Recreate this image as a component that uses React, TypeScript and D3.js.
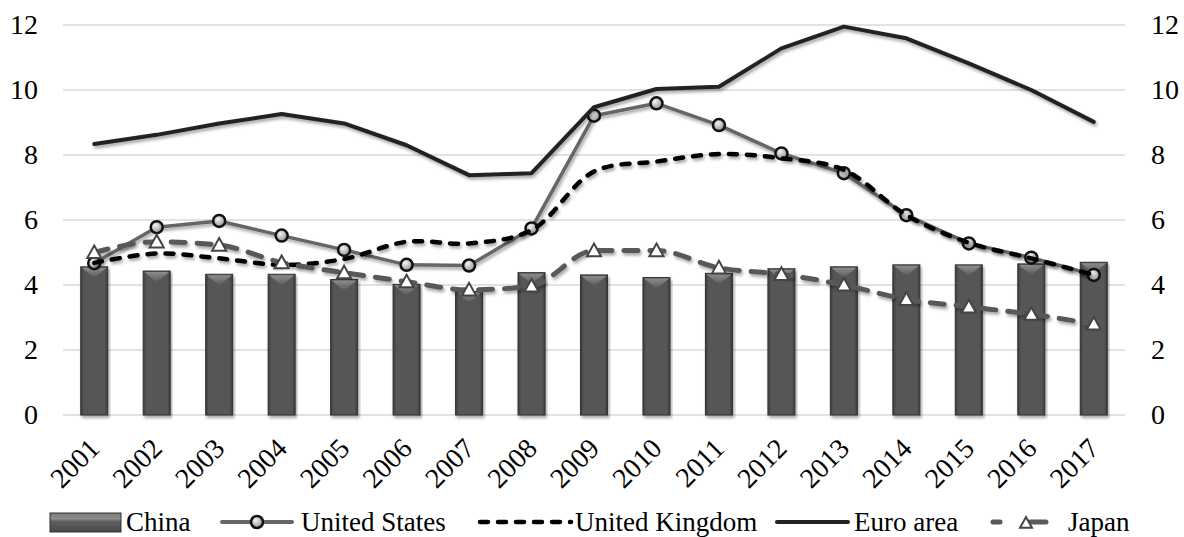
import * as d3 from 'd3';

// values
const years = ['2001', '2002', '2003', '2004', '2005', '2006', '2007', '2008', '2009', '2010', '2011', '2012', '2013', '2014', '2015', '2016', '2017'];
const china = [4.56, 4.43, 4.33, 4.33, 4.17, 4.02, 3.8, 4.38, 4.31, 4.23, 4.36, 4.5, 4.56, 4.62, 4.62, 4.65, 4.7];
const unitedStates = [4.67, 5.78, 5.97, 5.52, 5.08, 4.62, 4.6, 5.74, 9.21, 9.59, 8.92, 8.05, 7.44, 6.15, 5.28, 4.84, 4.31];
const unitedKingdom = [4.68, 4.97, 4.82, 4.62, 4.8, 5.33, 5.28, 5.69, 7.49, 7.8, 8.03, 7.9, 7.54, 6.15, 5.3, 4.82, 4.31];
const euroArea = [8.34, 8.62, 8.97, 9.26, 8.97, 8.3, 7.38, 7.44, 9.47, 10.03, 10.1, 11.28, 11.95, 11.59, 10.82, 10.0, 9.02];
const japan = [5.0, 5.33, 5.23, 4.69, 4.38, 4.1, 3.85, 3.97, 5.06, 5.06, 4.53, 4.33, 4.0, 3.56, 3.33, 3.1, 2.8];
const yTicks = [0, 2, 4, 6, 8, 10, 12];

const W = 1184;
const H = 537;
const left = 63;
const right = 1125;
const top = 25;
const bottom = 415;
const SERIF = 'Liberation Serif';

export default function App() {
  const x = d3.scaleBand<string>().domain(years).range([left, right]);
  const y = d3.scaleLinear().domain([0, 12]).range([bottom, top]);
  const cx = (i: number) => (x(years[i]) ?? 0) + x.bandwidth() / 2;
  const barW = 27;

  const straight = d3
    .line<number>()
    .x((_, i) => cx(i))
    .y((d) => y(d));
  const smoothUK = d3
    .line<number>()
    .x((_, i) => cx(i))
    .y((d) => y(d))
    .curve(d3.curveCatmullRom.alpha(0.5));
  const smoothJP = d3
    .line<number>()
    .x((_, i) => cx(i))
    .y((d) => y(d))
    .curve(d3.curveMonotoneX);

  const tri = (px: number, py: number, s = 7) =>
    `M${px},${py - s} L${px + s},${py + s * 0.8} L${px - s},${py + s * 0.8} Z`;

  return (
    <div style={{ position: 'absolute', left: 0, top: 0, fontFamily: 'serif' }}>
      <svg width={W} height={H} style={{ display: 'block', background: '#fff' }}>
        <defs>
          <linearGradient id="barGrad" x1="0" x2="1" y1="0" y2="0">
            <stop offset="0" stopColor="#3a3a3a" />
            <stop offset="0.12" stopColor="#575757" />
            <stop offset="0.88" stopColor="#575757" />
            <stop offset="1" stopColor="#3a3a3a" />
          </linearGradient>
          <linearGradient id="bevel" x1="0" x2="0" y1="0" y2="1">
            <stop offset="0" stopColor="#8c8c8c" />
            <stop offset="1" stopColor="#5a5a5a" />
          </linearGradient>
          <linearGradient id="legGrad" x1="0" x2="0" y1="0" y2="1">
            <stop offset="0" stopColor="#7a7a7a" />
            <stop offset="0.3" stopColor="#8e8e8e" />
            <stop offset="0.45" stopColor="#5e5e5e" />
            <stop offset="1" stopColor="#4a4a4a" />
          </linearGradient>
          <radialGradient id="dotGrad" cx="0.4" cy="0.35" r="0.7">
            <stop offset="0" stopColor="#f4f4f4" />
            <stop offset="1" stopColor="#8a8a8a" />
          </radialGradient>
          <filter id="shadow" x="-10%" y="-10%" width="120%" height="130%">
            <feDropShadow dx="1.5" dy="2.5" stdDeviation="1.5" floodColor="#000" floodOpacity="0.35" />
          </filter>
        </defs>

        {/* gridlines */}
        {yTicks.map((t) => (
          <line key={t} x1={left} x2={right} y1={y(t)} y2={y(t)} stroke="#d9d9d9" strokeWidth={1.5} />
        ))}

        {/* y labels both sides */}
        {yTicks.map((t) => (
          <g key={'l' + t}>
            <text x={38} y={y(t)} dy="0.33em" textAnchor="end" fontFamily={SERIF} fontSize={28} fill="#000">
              {t}
            </text>
            <text x={1151} y={y(t)} dy="0.33em" textAnchor="start" fontFamily={SERIF} fontSize={28} fill="#000">
              {t}
            </text>
          </g>
        ))}

        {/* China bars */}
        {china.map((v, i) => {
          const bx = cx(i) - barW / 2;
          const by = y(v);
          return (
            <g key={years[i]} filter="url(#shadow)">
              <rect x={bx} y={by} width={barW} height={y(0) - by} fill="url(#barGrad)" stroke="#333" strokeWidth={1} />
              <path d={`M${bx + 1},${by + 1} L${bx + barW - 1},${by + 1} L${bx + barW / 2},${by + 11} Z`} fill="url(#bevel)" />
            </g>
          );
        })}

        {/* United States */}
        <path d={straight(unitedStates) ?? ''} fill="none" stroke="#666" strokeWidth={3.5} strokeLinejoin="round" filter="url(#shadow)" />
        {unitedStates.map((v, i) => (
          <circle key={'us' + i} cx={cx(i)} cy={y(v)} r={6} fill="url(#dotGrad)" stroke="#111" strokeWidth={2.5} />
        ))}

        {/* United Kingdom */}
        <path d={smoothUK(unitedKingdom) ?? ''} fill="none" stroke="#000" strokeWidth={4.5} strokeDasharray="8,10" strokeLinecap="round" filter="url(#shadow)" />

        {/* Euro area */}
        <path d={straight(euroArea) ?? ''} fill="none" stroke="#222" strokeWidth={4} strokeLinejoin="round" strokeLinecap="round" filter="url(#shadow)" />

        {/* Japan */}
        <path d={smoothJP(japan) ?? ''} fill="none" stroke="#595959" strokeWidth={5} strokeDasharray="14,12" strokeLinecap="round" filter="url(#shadow)" />
        {japan.map((v, i) => (
          <path key={'jp' + i} d={tri(cx(i), y(v))} fill="#fff" stroke="#444" strokeWidth={2} />
        ))}

        {/* x labels */}
        {years.map((yr, i) => (
          <text
            key={'x' + yr}
            transform={`translate(${cx(i) + 7},${450}) rotate(-45)`}
            textAnchor="end"
            fontFamily={SERIF}
            fontSize={28}
            fill="#000"
          >
            {yr}
          </text>
        ))}

        {/* legend */}
        <g fontFamily={SERIF} fontSize={27}>
          <rect x={50} y={513} width={71} height={19} fill="url(#legGrad)" stroke="#333" strokeWidth={1} />
          <text x={126} y={531}>China</text>

          <line x1={222} x2={292} y1={522} y2={522} stroke="#666" strokeWidth={4} strokeLinecap="round" />
          <circle cx={257} cy={522} r={6} fill="url(#dotGrad)" stroke="#111" strokeWidth={2.5} />
          <text x={301} y={531}>United States</text>

          <line x1={480} x2={571} y1={522} y2={522} stroke="#000" strokeWidth={4.5} strokeDasharray="8,10" strokeLinecap="round" />
          <text x={575} y={531}>United Kingdom</text>

          <line x1={777} x2={848} y1={522} y2={522} stroke="#222" strokeWidth={4} strokeLinecap="round" />
          <text x={854} y={531}>Euro area</text>

          <line x1={993} x2={1000} y1={522} y2={522} stroke="#595959" strokeWidth={5} strokeLinecap="round" />
          <line x1={1030} x2={1046} y1={522} y2={522} stroke="#595959" strokeWidth={5} strokeLinecap="round" />
          <path d={tri(1026, 523, 6)} fill="#fff" stroke="#444" strokeWidth={2} />
          <text x={1068} y={531}>Japan</text>
        </g>
      </svg>
    </div>
  );
}
